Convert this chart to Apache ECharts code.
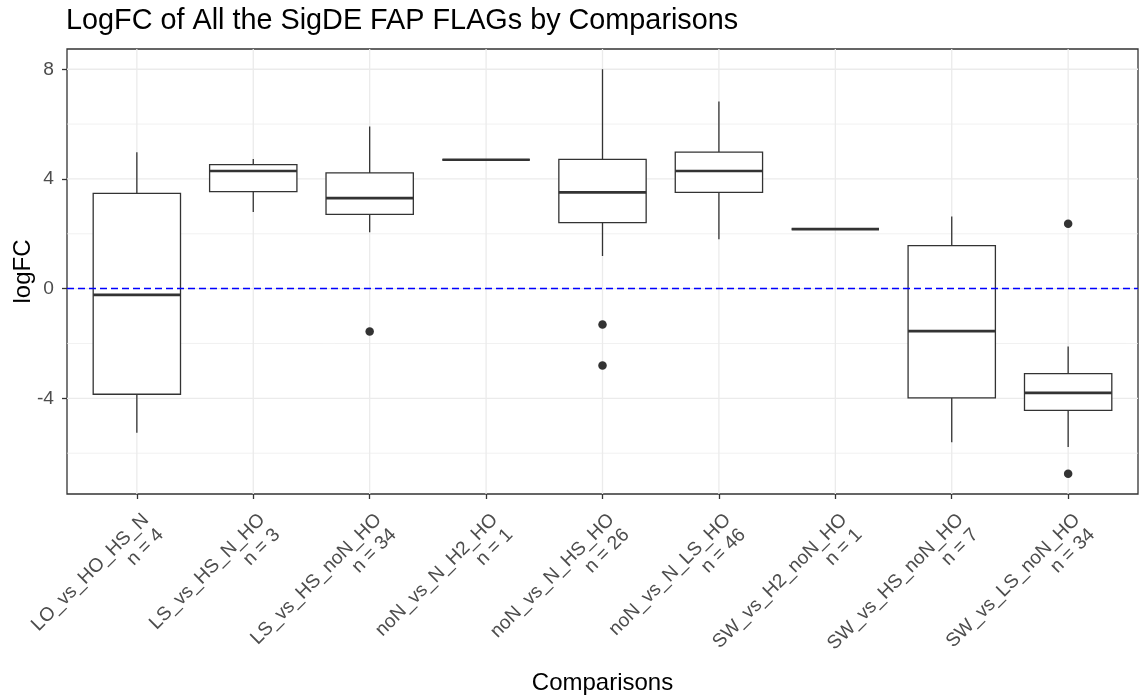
<!DOCTYPE html>
<html>
<head>
<meta charset="utf-8">
<script src="https://cdn.jsdelivr.net/npm/echarts@6/dist/echarts.min.js"></script>
<style>
  html, body { margin: 0; padding: 0; background: #ffffff; }
  #chart { width: 1139px; height: 700px; }
</style>
</head>
<body>
<div id="chart"></div>
<script>
// Comparisons and the number of significant genes in each
const categories = [
  'LO_vs_HO_HS_N', 'LS_vs_HS_N_HO', 'LS_vs_HS_noN_HO', 'noN_vs_N_H2_HO',
  'noN_vs_N_HS_HO', 'noN_vs_N_LS_HO', 'SW_vs_H2_noN_HO', 'SW_vs_HS_noN_HO',
  'SW_vs_LS_noN_HO'
];
const counts = [4, 3, 34, 1, 26, 46, 1, 7, 34];

// Box statistics of logFC per comparison
const whiskerLow    = [-5.25, 2.79, 2.06, 4.70, 1.19, 1.80, 2.17, -5.60, -5.77];
const lowerQuartile = [-3.85, 3.54, 2.71, 4.70, 2.41, 3.51, 2.17, -3.98, -4.44];
const medians       = [-0.23, 4.29, 3.30, 4.70, 3.51, 4.29, 2.17, -1.55, -3.80];
const upperQuartile = [ 3.47, 4.52, 4.22, 4.70, 4.71, 4.98, 2.17,  1.57, -3.10];
const whiskerHigh   = [ 4.97, 4.73, 5.91, 4.70, 8.00, 6.82, 2.17,  2.63, -2.11];

// Points beyond the whiskers: [comparison index, logFC]
const outliers = [[2, -1.56], [4, -1.31], [4, -2.80], [8, 2.37], [8, -6.75]];

// Axis ticks and grid positions
const yTicks = [-4, 0, 4, 8];
const yMinorGrid = [-6, -2, 2, 6];
const xTicks = categories.map((c, i) => i);

const FONT = '"Liberation Sans", Arial, Helvetica, sans-serif';
const INK = '#333333';

const chart = echarts.init(document.getElementById('chart'), null, { renderer: 'canvas' });

function horizontalGrid(width) {
  return function (params, api) {
    const y = api.coord([0, api.value(1)])[1];
    const cs = params.coordSys;
    return {
      type: 'line',
      shape: { x1: cs.x, y1: y, x2: cs.x + cs.width, y2: y },
      style: { stroke: '#EBEBEB', lineWidth: width }
    };
  };
}

function verticalGrid(params, api) {
  const x = api.coord([api.value(0), 0])[0];
  const cs = params.coordSys;
  return {
    type: 'line',
    shape: { x1: x, y1: cs.y, x2: x, y2: cs.y + cs.height },
    style: { stroke: '#EBEBEB', lineWidth: 1.3 }
  };
}

function renderBox(params, api) {
  const i = api.value(0);
  const lo = api.coord([i, api.value(1)]);
  const q1 = api.coord([i, api.value(2)]);
  const md = api.coord([i, api.value(3)]);
  const q3 = api.coord([i, api.value(4)]);
  const hi = api.coord([i, api.value(5)]);
  const w = api.size([0.75, 0])[0];
  const x = md[0];
  const stroke = { stroke: INK, lineWidth: 1.3 };
  return {
    type: 'group',
    children: [
      { type: 'line', shape: { x1: x, y1: hi[1], x2: x, y2: q3[1] }, style: stroke },
      { type: 'line', shape: { x1: x, y1: q1[1], x2: x, y2: lo[1] }, style: stroke },
      {
        type: 'rect',
        shape: { x: x - w / 2, y: q3[1], width: w, height: q1[1] - q3[1] },
        style: { fill: '#ffffff', stroke: INK, lineWidth: 1.3 }
      },
      {
        type: 'line',
        shape: { x1: x - w / 2, y1: md[1], x2: x + w / 2, y2: md[1] },
        style: { stroke: INK, lineWidth: 2.7 }
      }
    ]
  };
}

const boxData = categories.map((c, i) => [
  i, whiskerLow[i], lowerQuartile[i], medians[i], upperQuartile[i], whiskerHigh[i]
]);

const option = {
  animation: false,
  backgroundColor: '#ffffff',
  title: {
    text: 'LogFC of All the SigDE FAP FLAGs by Comparisons',
    left: 66,
    top: 7,
    padding: 0,
    textStyle: { fontFamily: FONT, fontSize: 28.8, fontWeight: 'normal', color: '#000000' }
  },
  grid: {
    left: 67,
    right: 1,
    top: 49,
    bottom: 206,
    show: true,
    backgroundColor: '#ffffff',
    borderColor: INK,
    borderWidth: 1.3,
    containLabel: false,
    outerBoundsMode: 'none'
  },
  xAxis: {
    type: 'value',
    min: -0.6,
    max: 8.6,
    name: 'Comparisons',
    nameLocation: 'middle',
    nameGap: 177,
    nameMoveOverlap: false,
    nameTextStyle: { fontFamily: FONT, fontSize: 24, color: '#000000' },
    axisLine: { show: false, onZero: false },
    splitLine: { show: false },
    axisTick: {
      show: true,
      customValues: xTicks,
      length: 5,
      lineStyle: { color: INK, width: 1.3 }
    },
    axisLabel: {
      customValues: xTicks,
      rotate: 45,
      margin: 10,
      align: 'right',
      verticalAlign: 'top',
      padding: [5, 3, 0, 0],
      lineHeight: 21,
      fontFamily: FONT,
      fontSize: 19.2,
      color: '#4D4D4D',
      formatter: function (v) {
        const i = Math.round(v);
        return categories[i] + '\n' + 'n = ' + counts[i];
      }
    }
  },
  yAxis: {
    type: 'value',
    min: -7.4875,
    max: 8.7375,
    name: 'logFC',
    nameLocation: 'middle',
    nameRotate: 90,
    nameGap: 32,
    nameMoveOverlap: false,
    nameTextStyle: { fontFamily: FONT, fontSize: 24, color: '#000000' },
    axisLine: { show: false, onZero: false },
    splitLine: { show: false },
    axisTick: {
      show: true,
      customValues: yTicks,
      length: 5,
      lineStyle: { color: INK, width: 1.3 }
    },
    axisLabel: {
      customValues: yTicks,
      margin: 13,
      fontFamily: FONT,
      fontSize: 19.2,
      color: '#4D4D4D'
    }
  },
  series: [
    {
      name: 'minor grid',
      type: 'custom',
      silent: true,
      z: 1,
      renderItem: horizontalGrid(0.7),
      encode: { x: 0, y: 1 },
      data: yMinorGrid.map(v => [0, v])
    },
    {
      name: 'major grid',
      type: 'custom',
      silent: true,
      z: 1,
      renderItem: horizontalGrid(1.3),
      encode: { x: 0, y: 1 },
      data: yTicks.map(v => [0, v])
    },
    {
      name: 'category grid',
      type: 'custom',
      silent: true,
      z: 1,
      renderItem: verticalGrid,
      encode: { x: 0, y: 1 },
      data: xTicks.map(i => [i, 0])
    },
    {
      name: 'logFC',
      type: 'custom',
      z: 2,
      renderItem: renderBox,
      encode: { x: 0, y: [1, 2, 3, 4, 5] },
      data: boxData
    },
    {
      name: 'outliers',
      type: 'scatter',
      z: 3,
      symbol: 'circle',
      symbolSize: 8.5,
      itemStyle: { color: INK, opacity: 1 },
      data: outliers,
      markLine: {
        silent: true,
        symbol: ['none', 'none'],
        label: { show: false },
        lineStyle: { color: '#0000FF', width: 1.3, type: [7, 4], opacity: 1 },
        data: [{ yAxis: 0 }]
      }
    }
  ]
};

chart.setOption(option);
</script>
</body>
</html>
